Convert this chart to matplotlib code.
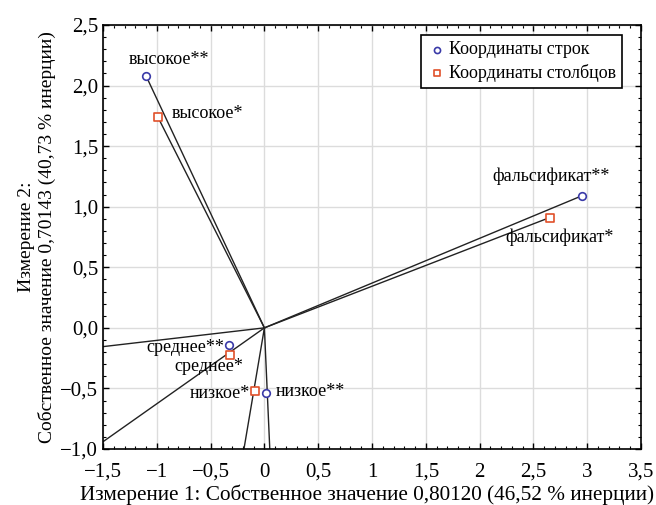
import matplotlib.pyplot as plt
import numpy as np
from matplotlib.ticker import MultipleLocator, FixedLocator

plt.rcParams['font.family'] = ['Liberation Serif', 'DejaVu Serif']

# row coordinates (circles)
row_names = ['высокое**', 'фальсификат**', 'среднее**', 'низкое**']
row_x = [-1.10, 2.95, -0.33, 0.015]
row_y = [2.08, 1.09, -0.145, -0.54]

# column coordinates (squares)
col_names = ['высокое*', 'фальсификат*', 'среднее*', 'низкое*']
col_x = [-0.99, 2.65, -0.32, -0.085]
col_y = [1.74, 0.91, -0.225, -0.525]

# rays drawn from the origin (end points as read)
ray_x = [-1.10, -0.99, 2.95, 2.65, -1.5, -1.5, -0.19, 0.05]
ray_y = [2.08, 1.74, 1.09, 0.91, -0.155, -0.94, -1.0, -1.0]

xticks = [-1.5, -1, -0.5, 0, 0.5, 1, 1.5, 2, 2.5, 3, 3.5]
xlabels = ['\u22121,5', '\u22121', '\u22120,5', '0', '0,5', '1', '1,5', '2', '2,5', '3', '3,5']
yticks = [-1.0, -0.5, 0.0, 0.5, 1.0, 1.5, 2.0, 2.5]
ylabels = ['\u22121,0', '\u22120,5', '0,0', '0,5', '1,0', '1,5', '2,0', '2,5']

fig = plt.figure(figsize=(6.56, 5.05), dpi=100)
ax = fig.add_axes([103 / 656, 1 - 449 / 505, 538 / 656, 424 / 505])

ax.grid(True, color='#dcdcdc', lw=1.0)
ax.set_axisbelow(True)

for ex, ey in zip(ray_x, ray_y):
    ax.plot([0, ex], [0, ey], color='#222222', lw=1.0, zorder=2)

ax.scatter(row_x, row_y, marker='o', s=30, facecolors='white', edgecolors='#3a3aa8',
           linewidths=1.2, zorder=4, label='Координаты строк')
ax.scatter(col_x, col_y, marker='s', s=30, facecolors='white', edgecolors='#e0502a',
           linewidths=1.2, zorder=4, label='Координаты столбцов')

fs = 13
ax.text(-0.887, 2.18, row_names[0], ha='center', va='baseline', fontsize=fs)
ax.text(2.12, 1.21, row_names[1], ha='left', va='baseline', fontsize=fs)
ax.text(-0.375, -0.20, row_names[2], ha='right', va='baseline', fontsize=fs)
ax.text(0.108, -0.56, row_names[3], ha='left', va='baseline', fontsize=fs)
ax.text(-0.86, 1.73, col_names[0], ha='left', va='baseline', fontsize=fs)
ax.text(2.24, 0.71, col_names[1], ha='left', va='baseline', fontsize=fs)
ax.text(-0.20, -0.36, col_names[2], ha='right', va='baseline', fontsize=fs)
ax.text(-0.134, -0.575, col_names[3], ha='right', va='baseline', fontsize=fs)

ax.set_xlim(-1.5, 3.5)
ax.set_ylim(-1.0, 2.5)
ax.xaxis.set_major_locator(FixedLocator(xticks))
ax.set_xticklabels(xlabels)
ax.yaxis.set_major_locator(FixedLocator(yticks))
ax.set_yticklabels(ylabels)
ax.xaxis.set_minor_locator(MultipleLocator(0.1))
ax.yaxis.set_minor_locator(MultipleLocator(0.1))
ax.tick_params(which='both', direction='in', top=True, right=True, labelsize=15)
ax.tick_params(which='major', length=4, width=1)
ax.tick_params(which='minor', length=2.5, width=0.8)
ax.tick_params(axis='x', which='major', pad=10)
for s in ax.spines.values():
    s.set_linewidth(1.2)

ax.set_xlabel('Измерение 1: Собственное значение 0,80120 (46,52 % инерции)', fontsize=15.3)
ax.xaxis.set_label_coords(0.49, -0.108)
ax.xaxis.label.set_va('center')
ax.set_ylabel('Измерение 2:\nСобственное значение 0,70143 (40,73 % инерции)', fontsize=14,
              multialignment='center', labelpad=3)

leg = ax.legend(loc='upper right', bbox_to_anchor=(0.965, 0.976), fontsize=13, fancybox=False,
                framealpha=1, edgecolor='black', handletextpad=0.1, borderpad=0.35,
                labelspacing=0.3, handlelength=1.1, markerscale=0.8, borderaxespad=0)
leg.get_frame().set_linewidth(1.2)

fig.savefig('out.png', dpi=100)
